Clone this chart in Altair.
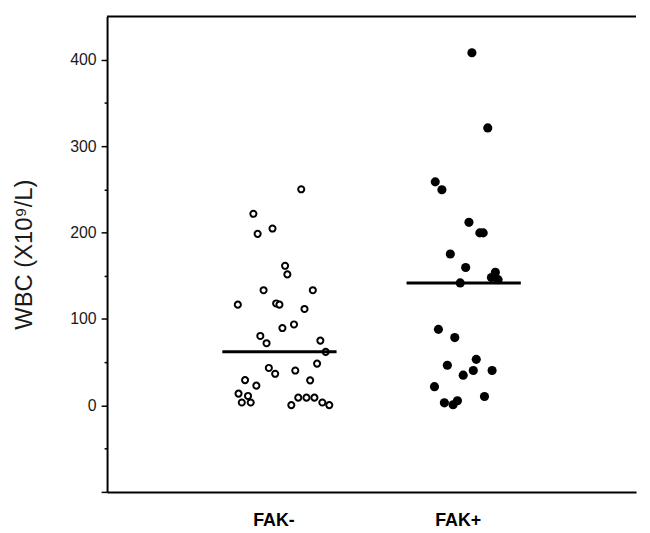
import altair as alt
import pandas as pd

groups = ["FAK-", "FAK+"]

# FAK- (open circles): horizontal jitter (px-like offsets) and WBC values
fak_neg_jitter = [22, -26.3, -22, -7, 5.7, 8, -16, 33.7, -42, -3.3, 0, 25.3, 14.7, 3,
                  -19.3, -13, 41.3, 46.7, -10.7, -4.3, 16, 38, -34.7, -23.3, 31, -41.3,
                  -31.7, -38, -29, 12, 19, 27.3, 35.3, 43.3, 50.3]
fak_neg_wbc = [250, 221.7, 198.5, 204.6, 161.5, 151.6, 133.3, 133.3, 116.6, 118, 116.6,
               111.6, 93.7, 89.5, 80.4, 72, 75, 62, 43.4, 36.6, 40.4, 48.4, 29.3, 22.9,
               29, 13.7, 11, 3.4, 3.4, 0.4, 9, 9, 9, 3.4, 0.4]

# FAK+ (filled dots)
fak_pos_jitter = [8.3, 24.3, -28.7, -22, 5.3, 16.3, 19.7, -13.5, 2, 32, 28, 34.7, -3.5,
                  -25.5, -9, 12.7, -16.5, 9.7, 28.7, -0.5, -29.5, 21, -19.5, -10.7, -6.3]
fak_pos_wbc = [408, 321, 258.6, 249.5, 211.8, 199.6, 199.6, 175.2, 159.6, 154, 148, 145.5,
               141.7, 88, 78.5, 53.3, 46.5, 40.4, 40.4, 35, 21.7, 10.3, 3, 0.8, 5.4]

SPACING = 186.0
rows = []
for j, v in zip(fak_neg_jitter, fak_neg_wbc):
    rows.append({"group": groups[0], "gpos": 1, "x": 1 + j / SPACING, "wbc": v})
for j, v in zip(fak_pos_jitter, fak_pos_wbc):
    rows.append({"group": groups[1], "gpos": 2, "x": 2 + j / SPACING, "wbc": v})
df = pd.DataFrame(rows)

FONT = "Liberation Sans"
X_DOMAIN = [0.0645, 2.9355]
Y_DOMAIN = [-100, 450]
xscale = alt.Scale(domain=X_DOMAIN, nice=False, zero=False)
yscale = alt.Scale(domain=Y_DOMAIN, nice=False, zero=False)

xaxis = alt.Axis(values=[1, 2], labelExpr="datum.value == 1 ? 'FAK-' : 'FAK+'",
                 ticks=False, grid=False, title=None, domainColor="black", domainWidth=2,
                 labelFont=FONT, labelFontSize=18, labelFontWeight="bold", labelColor="black",
                 labelPadding=20, labelOffset=-6)
yaxis = alt.Axis(values=list(range(-100, 401, 50)),
                 labelExpr="(datum.value >= 0 && datum.value % 100 === 0) ? datum.label : ''",
                 tickSize={"condition": {"test": "datum.value % 100 === 0", "value": 6}, "value": 3},
                 tickColor="black", tickWidth=1.5, grid=False,
                 domainColor="black", domainWidth=2,
                 labelFont=FONT, labelFontSize=16, labelColor="#1a1a1a", labelPadding=5,
                 title="WBC (X10⁹/L)", titleFont=FONT, titleFontSize=24,
                 titleFontWeight="normal", titleColor="#1a1a1a", titlePadding=34)

base = alt.Chart(df)

open_pts = base.transform_filter(alt.datum.gpos == 1).mark_point(
    shape="circle", filled=False, fill="white", stroke="black", strokeWidth=2,
    size=38, opacity=1
).encode(x=alt.X("x:Q", scale=xscale, axis=xaxis), y=alt.Y("wbc:Q", scale=yscale, axis=yaxis))

filled_pts = base.transform_filter(alt.datum.gpos == 2).mark_point(
    shape="circle", filled=True, color="black", size=85, opacity=1
).encode(x=alt.X("x:Q", scale=xscale), y=alt.Y("wbc:Q", scale=yscale))

medians = base.transform_aggregate(
    med="median(wbc)", groupby=["gpos"]
).transform_calculate(
    x1="datum.gpos - 0.31", x2="datum.gpos + 0.31"
).mark_rule(color="black", strokeWidth=3).encode(
    x=alt.X("x1:Q", scale=xscale), x2="x2:Q", y=alt.Y("med:Q", scale=yscale)
)

top_line = alt.Chart(pd.DataFrame({"t": [Y_DOMAIN[1]], "a": [X_DOMAIN[0]], "b": [X_DOMAIN[1]]})).mark_rule(
    color="black", strokeWidth=2
).encode(
    x=alt.X("a:Q", scale=xscale), x2="b:Q", y=alt.Y("t:Q", scale=yscale)
)

chart = alt.layer(open_pts, filled_pts, medians, top_line).properties(
    width=534, height=480,
    autosize=alt.AutoSizeParams(type="none"),
    padding={"left": 100, "top": 6, "right": 6, "bottom": 38},
    background="white",
).configure_view(strokeWidth=0, strokeOpacity=0)

chart.save("out.html", embed_options={"renderer": "svg", "actions": False})
